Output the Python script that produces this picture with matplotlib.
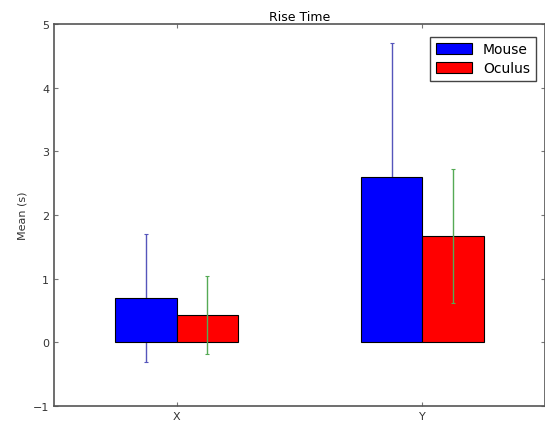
import matplotlib
matplotlib.use("Agg")
import matplotlib.pyplot as plt
import numpy as np

groups = ["X", "Y"]
mouse_mean = [0.70, 2.60]
mouse_err = [1.01, 2.10]
oculus_mean = [0.43, 1.67]
oculus_err = [0.62, 1.05]

plt.rcParams['font.family'] = ['DejaVu Sans']

fig = plt.figure(figsize=(5.45, 4.27), dpi=100)
ax = fig.add_axes([0.099, 0.047, 0.901, 0.894])

ind = np.arange(len(groups))
width = 0.25

ax.bar(ind, mouse_mean, width, align='edge', color='#0000ff', edgecolor='#000000',
       linewidth=0.8, label='Mouse')
ax.bar(ind + width, oculus_mean, width, align='edge', color='#ff0000', edgecolor='#000000',
       linewidth=0.8, label='Oculus')
ax.errorbar(ind + width / 2, mouse_mean, yerr=mouse_err, fmt='none', ecolor='#5555bb',
            elinewidth=1.0, capsize=1.5, capthick=0.8, zorder=0.5)
ax.errorbar(ind + width * 1.5, oculus_mean, yerr=oculus_err, fmt='none', ecolor='#55aa55',
            elinewidth=1.0, capsize=1.5, capthick=0.8, zorder=3)

ax.set_xlim(-0.25, 1.75)
ax.set_ylim(-1, 5)
ax.set_xticks(ind + width)
ax.set_xticklabels(groups, fontsize=8, color='#333333')
ax.set_yticks(range(-1, 6))
ax.tick_params(axis='y', labelsize=8, labelcolor='#333333')
ax.tick_params(direction='in', length=3, top=True, right=True, color='#777777')
for s in ax.spines.values():
    s.set_color('#555555')
    s.set_linewidth(1.2)

ax.set_ylabel("Mean (s)", fontsize=8, color='#333333')
ax.set_title("Rise Time", fontsize=9, pad=3)

ax.legend(loc='upper right', fontsize=10, fancybox=False, framealpha=1,
          edgecolor='#444444', handlelength=2.6, handleheight=0.9, borderpad=0.4,
          labelspacing=0.35, bbox_to_anchor=(0.995, 0.985))

fig.savefig("out.png", dpi=100)
